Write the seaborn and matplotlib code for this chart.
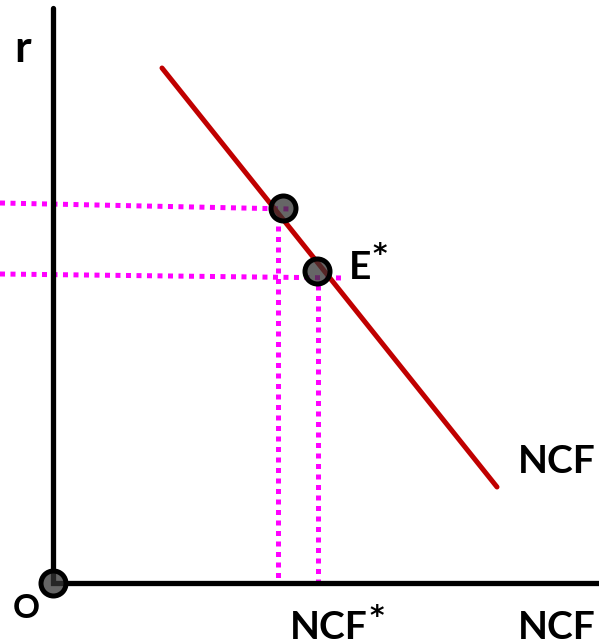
import matplotlib
matplotlib.use("Agg")
import matplotlib.pyplot as plt
import seaborn as sns
import pandas as pd

# diagram in pixel-like units (x right, y down)
axis_x = [53, 53, 599]
axis_y = [8, 583, 583]

ncf_x = [162, 497]
ncf_y = [68, 487]

points_x = [283, 317, 53]
points_y = [208, 271, 583]

guide1_x = [0, 290]
guide1_y = [203, 209]
guide2_x = [0, 342]
guide2_y = [274, 278]
drop1_x = [278, 278]
drop1_y = [226, 583]
drop2_x = [318, 318]
drop2_y = [285, 583]

labels = ["r", "NCF", "E", "O", "NCF", "NCF"]
label_x = [14, 518, 349, 13, 290, 518]
label_y = [62, 473, 279, 618, 639, 639]
label_size = [32, 28, 28, 24, 28, 28]

stars_x = [372, 369]
stars_y = [241, 603]

sns.set_style("white")
plt.rcParams['font.family'] = ['Lato', 'DejaVu Sans']

fig = plt.figure(figsize=(5.99, 6.44), dpi=100)
ax = fig.add_axes([0, 0, 1, 1])

mag = "#FF00FF"
dots = (0, (1, 1.1))
for gx, gy in [(guide1_x, guide1_y), (guide2_x, guide2_y), (drop1_x, drop1_y), (drop2_x, drop2_y)]:
    ax.plot(gx, gy, color=mag, lw=3.6, linestyle=dots, dash_capstyle="butt")

sns.lineplot(x=ncf_x, y=ncf_y, ax=ax, color="#C00000", lw=3.6, sort=False)
ax.plot(axis_x, axis_y, color="black", lw=3.8, solid_joinstyle="miter")

pts = pd.DataFrame({"x": points_x, "y": points_y})
sns.scatterplot(data=pts, x="x", y="y", ax=ax, s=324, color=(0.2, 0.2, 0.2, 0.75),
                edgecolor="black", linewidth=3.6, zorder=5)

for t, x, y, s in zip(labels, label_x, label_y, label_size):
    ax.text(x, y, t, fontsize=s, fontweight="bold", ha="left", va="baseline", color="black")
for x, y in zip(stars_x, stars_y):
    ax.text(x, y, "*", fontsize=20, fontweight="bold", family="DejaVu Sans",
            ha="left", va="top", color="black")

ax.set_xlim(0, 599)
ax.set_ylim(644, 0)
ax.set_xlabel("")
ax.set_ylabel("")
ax.axis("off")

fig.savefig("out.png", dpi=100)
